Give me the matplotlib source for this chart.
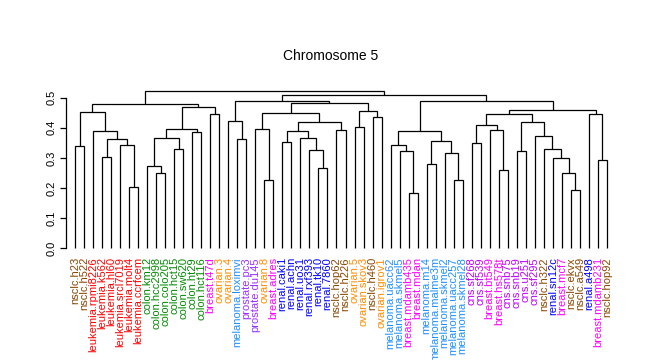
import matplotlib
matplotlib.use('Agg')
import matplotlib.pyplot as plt

plt.rcParams['font.family'] = ['Liberation Sans', 'DejaVu Sans']

# Leaf labels in plotted order
labels = [
    'nsclc.h23', 'nsclc.h522', 'leukemia.rpmi8226', 'leukemia.k562', 'leukemia.hl60',
    'leukemia.srcl7019', 'leukemia.molt4', 'leukemia.ccrfcem', 'colon.km12', 'colon.hcc2998',
    'colon.colo205', 'colon.hct15', 'colon.sw620', 'colon.ht29', 'colon.hct116',
    'breast.t47d', 'ovarian.3', 'ovarian.4', 'melanoma.loximvi', 'prostate.pc3',
    'prostate.du145', 'ovarian.8', 'breast.adres', 'renal.caki1', 'renal.achn',
    'renal.uo31', 'renal.rxf393', 'renal.tk10', 'renal.7860', 'nsclc.hop62',
    'nsclc.h226', 'ovarian.5', 'ovarian.skov3', 'nsclc.h460', 'ovarian.igrov1',
    'melanoma.uacc62', 'melanoma.skmel5', 'breast.mdamb435', 'breast.mdan', 'melanoma.m14',
    'melanoma.malme3m', 'melanoma.skmel2', 'melanoma.uacc257', 'melanoma.skmel28', 'cns.sf268',
    'cns.sf539', 'breast.bt549', 'breast.hs578t', 'cns.snb75', 'cns.snb19',
    'cns.u251', 'cns.sf295', 'nsclc.h322', 'renal.sn12c', 'breast.mcf7',
    'nsclc.ekvx', 'nsclc.a549', 'renal.a498', 'breast.mdamb231', 'nsclc.hop92',
]

# Colour per tissue type
tissue_colors = {
    'nsclc': '#8B4500',
    'leukemia': '#FF0000',
    'colon': '#008B00',
    'breast': '#FF00FF',
    'ovarian': '#FF8C00',
    'melanoma': '#1E90FF',
    'prostate': '#9B30FF',
    'renal': '#0000FF',
    'cns': '#C000FF',
}

# Merges: (left, right, height); ids < 60 are leaves, node k gets id 60 + k
merges = [
    (6, 7, 0.204), (5, 60, 0.343), (3, 4, 0.303), (62, 61, 0.362), (2, 63, 0.389),
    (0, 1, 0.339), (65, 64, 0.452), (9, 10, 0.251), (8, 67, 0.273), (11, 12, 0.329),
    (68, 69, 0.367), (13, 14, 0.385), (70, 71, 0.396), (15, 16, 0.446), (72, 73, 0.470),
    (66, 74, 0.479), (18, 19, 0.363), (17, 76, 0.423), (21, 22, 0.228), (20, 78, 0.396),
    (23, 24, 0.354), (27, 28, 0.268), (26, 81, 0.327), (25, 82, 0.367), (80, 83, 0.390),
    (29, 30, 0.393), (84, 85, 0.420), (79, 86, 0.449), (31, 32, 0.403), (33, 34, 0.436),
    (88, 89, 0.456), (87, 90, 0.482), (77, 91, 0.489), (37, 38, 0.185), (36, 93, 0.324),
    (35, 94, 0.344), (39, 40, 0.281), (42, 43, 0.225), (41, 97, 0.317), (96, 98, 0.357),
    (95, 99, 0.390), (44, 45, 0.350), (47, 48, 0.261), (46, 102, 0.393), (101, 103, 0.410),
    (49, 50, 0.324), (55, 56, 0.195), (54, 106, 0.251), (53, 107, 0.301), (52, 108, 0.330),
    (51, 109, 0.373), (105, 110, 0.420), (104, 111, 0.446), (58, 59, 0.294), (57, 113, 0.446),
    (112, 114, 0.459), (100, 115, 0.489), (92, 116, 0.508), (75, 117, 0.522),
]

y_ticks = [0.0, 0.1, 0.2, 0.3, 0.4, 0.5]
title = 'Chromosome 5'

n = len(labels)
fig = plt.figure(figsize=(6.47, 3.6), dpi=100)
ax = fig.add_axes([66 / 647, 1 - 254.3 / 360, 550 / 647, (254.3 - 82.6) / 360])

# node positions
xpos = {i: float(i) for i in range(n)}
ypos = {i: 0.0 for i in range(n)}
for k, (a, b, h) in enumerate(merges):
    nid = n + k
    xpos[nid] = (xpos[a] + xpos[b]) / 2
    ypos[nid] = h
    ax.plot([xpos[a], xpos[a], xpos[b], xpos[b]], [ypos[a], h, h, ypos[b]],
            color='black', lw=0.9, solid_capstyle='butt', solid_joinstyle='miter')

ax.set_xlim(-1, n + 0)
ax.set_ylim(-0.02, 0.55)

ax.spines['top'].set_visible(False)
ax.spines['right'].set_visible(False)
ax.spines['bottom'].set_visible(False)
ax.spines['left'].set_bounds(0, 0.5)
ax.spines['left'].set_linewidth(0.9)

ax.set_yticks(y_ticks)
ax.set_yticklabels([f'{t:.1f}' for t in y_ticks], rotation=90, va='center', fontsize=8)
ax.tick_params(axis='y', length=4, width=0.9, pad=3)

ax.set_xticks(range(n))
ax.set_xticklabels(labels, rotation=90, fontsize=8)
ax.tick_params(axis='x', length=0, pad=2)
for lab, txt in zip(ax.get_xticklabels(), labels):
    lab.set_color(tissue_colors[txt.split('.')[0]])

fig.text(331 / 647, 1 - 56 / 360, title, ha='center', va='center', fontsize=10)

fig.savefig('out.png', dpi=100)
